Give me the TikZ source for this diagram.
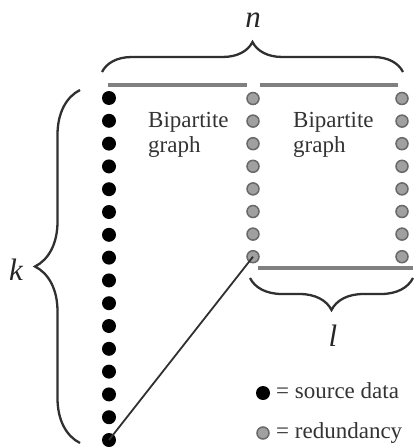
\documentclass[tikz,border=0pt]{standalone}
\usepackage{fontspec}
\setmainfont{Liberation Serif}
\usetikzlibrary{decorations.pathreplacing}
\definecolor{dotgray}{HTML}{A0A0A0}
\definecolor{dotedge}{HTML}{696969}
\definecolor{linegray}{HTML}{808080}
\definecolor{bracecol}{HTML}{303030}
\tikzset{
  srcdot/.style={circle, fill=black, inner sep=0pt, minimum size=14pt},
  reddot/.style={circle, fill=dotgray, draw=dotedge, line width=1.5pt, inner sep=0pt, minimum size=12pt},
  barline/.style={linegray, line width=3.2pt},
  bracestyle/.style={bracecol, line width=2.3pt, decorate, decoration={brace, amplitude=#1}},
  lbl/.style={font=\fontsize{23}{26}\selectfont, text=black!80, inner sep=0pt},
  varlbl/.style={font=\fontsize{31}{34}\selectfont\itshape, text=black!85, inner sep=0pt},
  diag/.style={bracecol, line width=1.8pt}
}
\begin{document}
\begin{tikzpicture}[x=1pt,y=-1pt]
\useasboundingbox (0,0) rectangle (419,447);
% source column
\foreach \i in {1,...,16} {
  \node[srcdot] (b\i) at (109, {98+(\i-1)*22.8}) {};
}
% redundancy columns
\foreach \i in {1,...,8} {
  \node[reddot] (m\i) at (253, {98.5+(\i-1)*22.6}) {};
  \node[reddot] (r\i) at (402, {98.5+(\i-1)*22.6}) {};
}
% bars
\coordinate (tl1) at (108,85); \coordinate (tl2) at (247,85);
\coordinate (tr1) at (260,85); \coordinate (tr2) at (398,85);
\coordinate (bl1) at (258,268); \coordinate (bl2) at (413,268);
\draw[barline] (tl1) -- (tl2);
\draw[barline] (tr1) -- (tr2);
\draw[barline] (bl1) -- (bl2);
% diagonal
\draw[diag] (b16.center) -- (m8.center);
% braces
\coordinate (nA) at (102,72); \coordinate (nB) at (403,72);
\draw[bracestyle=30] (nA) -- (nB);
\coordinate (kA) at (80,443); \coordinate (kB) at (80,90);
\draw[bracestyle=45] (kA) -- (kB);
\coordinate (lA) at (413,278); \coordinate (lB) at (250,278);
\draw[bracestyle=32] (lA) -- (lB);
% variable labels
\node[varlbl] (n) at (253,20) {n};
\node[varlbl] (k) at (16,270) {k};
\node[varlbl] (l) at (333,336) {l};
% texts
\node[lbl, anchor=base west] (bp1) at (148,127) {Bipartite};
\node[lbl, anchor=base west] (gr1) at (148,152) {graph};
\node[lbl, anchor=base west] (bp2) at (293,127) {Bipartite};
\node[lbl, anchor=base west] (gr2) at (293,152) {graph};
% legend
\node[srcdot] (lg1) at (263,393) {};
\node[lbl, anchor=base west] (lt1) at (276,398) {= source data};
\node[reddot] (lg2) at (263,433) {};
\node[lbl, anchor=base west] (lt2) at (276,438) {= redundancy};
\end{tikzpicture}
\end{document}
